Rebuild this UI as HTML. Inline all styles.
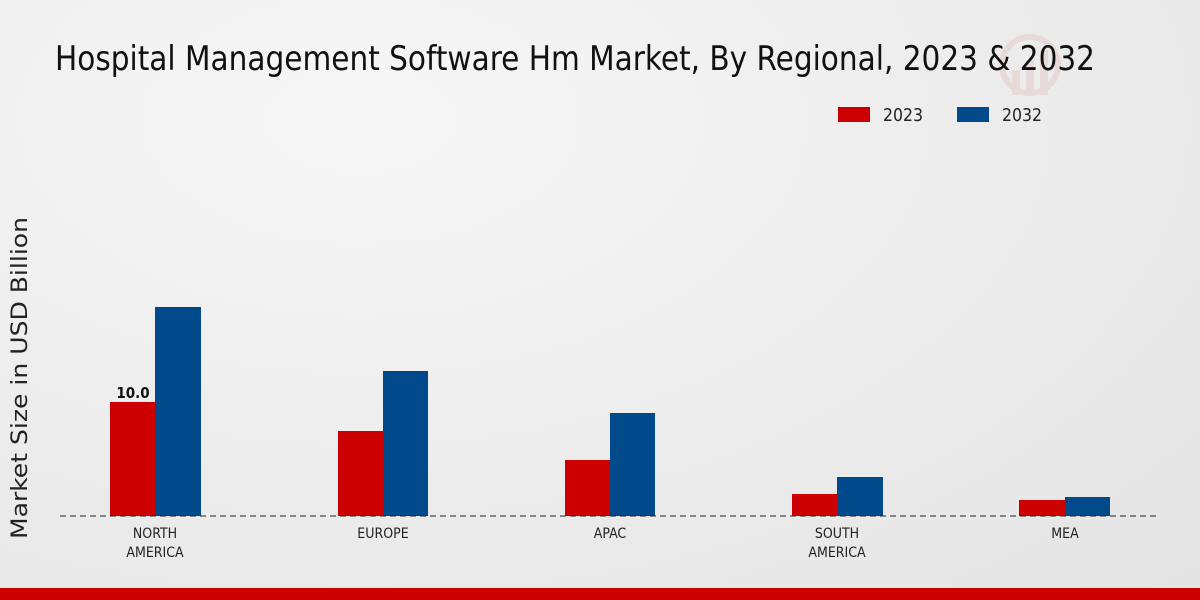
<!DOCTYPE html>
<html><head><meta charset="utf-8"><style>
html,body{margin:0;padding:0;}
body{width:1200px;height:600px;overflow:hidden;background:radial-gradient(ellipse at 30% 20%,#f7f7f7 0%,#ebebeb 60%,#e4e4e4 100%);font-family:"DejaVu Sans Condensed","Liberation Sans",sans-serif;}
svg text{font-family:"DejaVu Sans Condensed","Liberation Sans",sans-serif;}
</style></head><body>
<svg width="1200" height="600" xmlns="http://www.w3.org/2000/svg" style="position:absolute;left:0;top:0">
<g opacity="0.07" fill="#c00"><circle cx="1030" cy="65" r="28" fill="none" stroke="#c00" stroke-width="6"/><rect x="1012" y="70" width="8" height="25"/><rect x="1026" y="60" width="8" height="35"/><rect x="1040" y="50" width="8" height="45"/></g>
<text x="55" y="70" font-size="34" fill="#111" textLength="1040" lengthAdjust="spacingAndGlyphs">Hospital Management Software Hm Market, By Regional, 2023 &amp; 2032</text>
<rect x="838" y="107" width="32" height="15" fill="#cc0000"/>
<text x="883" y="121" font-size="18" fill="#222" textLength="40" lengthAdjust="spacingAndGlyphs">2023</text>
<rect x="957" y="107" width="32" height="15" fill="#004a8c"/>
<text x="1002" y="121" font-size="18" fill="#222" textLength="40" lengthAdjust="spacingAndGlyphs">2032</text>
<text transform="translate(27,378) rotate(-90)" font-size="22" fill="#222" text-anchor="middle" textLength="322" lengthAdjust="spacingAndGlyphs">Market Size in USD Billion</text>
<g fill="#cc0000">
<rect x="110" y="402" width="45" height="114"/><rect x="338" y="431" width="45" height="85"/><rect x="565" y="460" width="45" height="56"/><rect x="792" y="494" width="45" height="22"/><rect x="1019" y="500" width="46" height="16"/>
</g>
<g fill="#004a8c">
<rect x="155" y="307" width="46" height="209"/><rect x="383" y="371" width="45" height="145"/><rect x="610" y="413" width="45" height="103"/><rect x="837" y="477" width="46" height="39"/><rect x="1065" y="497" width="45" height="19"/>
</g>
<line x1="60" y1="516" x2="1160" y2="516" stroke="#222" stroke-width="1" stroke-dasharray="6,4"/>
<text x="133" y="398" font-size="15" font-weight="bold" fill="#111" text-anchor="middle">10.0</text>
<g font-size="14" fill="#222" text-anchor="middle">
<text x="155" y="538">NORTH</text><text x="155" y="557">AMERICA</text>
<text x="383" y="538">EUROPE</text>
<text x="610" y="538">APAC</text>
<text x="837" y="538">SOUTH</text><text x="837" y="557">AMERICA</text>
<text x="1065" y="538">MEA</text>
</g>
<rect x="0" y="588" width="1200" height="12" fill="#cc0000"/>
</svg>
</body></html>
